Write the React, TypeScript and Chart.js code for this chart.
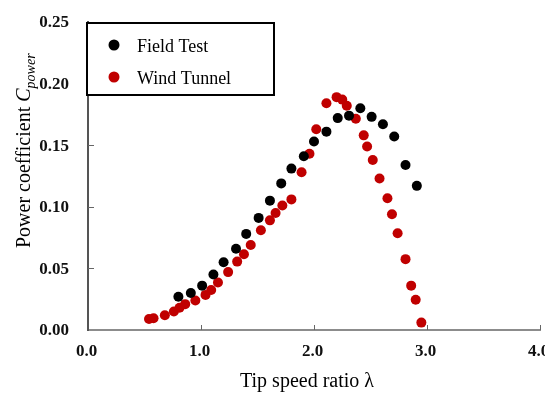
import React, { useEffect, useRef } from "react";
import { Chart, registerables } from "chart.js";

Chart.register(...registerables);

const xTicks = [0, 1, 2, 3, 4];
const yTicks = [0, 0.05, 0.1, 0.15, 0.2, 0.25];

const seriesLabels = ["Field Test", "Wind Tunnel"];
const seriesColors = ["#000000", "#c00000"];

const fieldTestX = [0.8, 0.91, 1.01, 1.11, 1.2, 1.31, 1.4, 1.51, 1.61, 1.71, 1.8, 1.91, 2.0, 2.11, 2.21, 2.31, 2.41, 2.51, 2.61, 2.71, 2.81, 2.91];
const fieldTestY = [0.027, 0.03, 0.036, 0.045, 0.055, 0.066, 0.078, 0.091, 0.105, 0.119, 0.131, 0.141, 0.153, 0.161, 0.172, 0.174, 0.18, 0.173, 0.167, 0.157, 0.134, 0.117];

const windTunnelX = [0.54, 0.58, 0.68, 0.76, 0.81, 0.86, 0.95, 1.04, 1.09, 1.15, 1.24, 1.32, 1.38, 1.44, 1.53, 1.61, 1.66, 1.72, 1.8, 1.89, 1.96, 2.02, 2.11, 2.2, 2.25, 2.29, 2.37, 2.44, 2.47, 2.52, 2.58, 2.65, 2.69, 2.74, 2.81, 2.86, 2.9, 2.95];
const windTunnelY = [0.009, 0.0095, 0.012, 0.015, 0.018, 0.021, 0.024, 0.0285, 0.0325, 0.0385, 0.047, 0.0555, 0.0615, 0.069, 0.081, 0.089, 0.095, 0.101, 0.106, 0.128, 0.143, 0.163, 0.184, 0.189, 0.187, 0.182, 0.1715, 0.158, 0.149, 0.138, 0.123, 0.107, 0.094, 0.0785, 0.0575, 0.036, 0.0245, 0.006];

const xTitle = "Tip speed ratio λ";
const yTitleMain = "Power coefficient ";
const yTitleSymbol = "C";
const yTitleSub = "power";

const SERIF = "'Liberation Serif', 'Times New Roman', Times, serif";

const decorPlugin = {
  id: "decor",
  afterDraw(chart: any) {
    const ctx = chart.ctx as CanvasRenderingContext2D;
    const xs = chart.scales.x;
    const ys = chart.scales.y;
    const { left, bottom } = chart.chartArea;
    ctx.save();

    // inward tick marks
    ctx.strokeStyle = "#666";
    ctx.lineWidth = 1;
    ctx.beginPath();
    xTicks.forEach((v) => {
      if (v === 0) return;
      const px = Math.round(xs.getPixelForValue(v)) + 0.5;
      ctx.moveTo(px, bottom);
      ctx.lineTo(px, bottom - 5);
    });
    yTicks.forEach((v) => {
      if (v === 0) return;
      const py = Math.round(ys.getPixelForValue(v)) + 0.5;
      ctx.moveTo(left, py);
      ctx.lineTo(left + 6, py);
    });
    ctx.stroke();

    // legend box
    ctx.fillStyle = "#ffffff";
    ctx.fillRect(87, 23, 187, 72);
    ctx.strokeStyle = "#000";
    ctx.lineWidth = 2;
    ctx.strokeRect(87, 23, 187, 72);
    const rows = [45, 77];
    chart.data.datasets.forEach((ds: any, i: number) => {
      ctx.fillStyle = ds.pointBackgroundColor;
      ctx.beginPath();
      ctx.arc(114, rows[i], 5.5, 0, Math.PI * 2);
      ctx.fill();
      ctx.fillStyle = "#000";
      ctx.font = `18px ${SERIF}`;
      ctx.textAlign = "left";
      ctx.textBaseline = "alphabetic";
      ctx.fillText(ds.label, 137, rows[i] + 6.5);
    });

    // x title
    ctx.fillStyle = "#000";
    ctx.font = `20px ${SERIF}`;
    ctx.textAlign = "center";
    ctx.textBaseline = "alphabetic";
    ctx.fillText(xTitle, 307, 387);

    // y title (rotated)
    ctx.translate(30, 248);
    ctx.rotate(-Math.PI / 2);
    ctx.textAlign = "left";
    ctx.font = `20px ${SERIF}`;
    ctx.fillText(yTitleMain, 0, 0);
    let off = ctx.measureText(yTitleMain).width;
    ctx.font = `italic 20px ${SERIF}`;
    ctx.fillText(yTitleSymbol, off, 0);
    off += ctx.measureText(yTitleSymbol).width;
    ctx.font = `italic 14px ${SERIF}`;
    ctx.fillText(yTitleSub, off, 5);

    ctx.restore();
  },
};

export default function App() {
  const ref = useRef<HTMLCanvasElement | null>(null);

  useEffect(() => {
    document.body.style.margin = "0";
    const canvas = ref.current;
    if (!canvas) return;
    const chart = new Chart(canvas, {
      type: "scatter",
      data: {
        datasets: [
          {
            label: seriesLabels[0],
            data: fieldTestX.map((x, i) => ({ x, y: fieldTestY[i] })),
            pointBackgroundColor: seriesColors[0],
            backgroundColor: seriesColors[0],
            pointBorderWidth: 0,
            pointRadius: 5,
            showLine: false,
          },
          {
            label: seriesLabels[1],
            data: windTunnelX.map((x, i) => ({ x, y: windTunnelY[i] })),
            pointBackgroundColor: seriesColors[1],
            backgroundColor: seriesColors[1],
            pointBorderWidth: 0,
            pointRadius: 5,
            showLine: false,
          },
        ],
      },
      options: {
        responsive: false,
        animation: false,
        devicePixelRatio: 1,
        layout: { padding: { top: 22, right: 5, bottom: 0, left: 0 } },
        plugins: {
          legend: { display: false },
          tooltip: { enabled: false },
        },
        scales: {
          x: {
            type: "linear",
            min: 0,
            max: 4,
            afterBuildTicks: (s: any) => {
              s.ticks = xTicks.map((v) => ({ value: v }));
            },
            afterFit: (s: any) => {
              s.height = 64;
              s.paddingLeft = 0;
              s.paddingRight = 0;
            },
            grid: { display: true, drawOnChartArea: false, drawTicks: false },
            border: { display: true, color: "#8c8c8c", width: 2 },
            ticks: {
              callback: (v: any) => Number(v).toFixed(1),
              font: { family: SERIF, size: 17, weight: "bold" },
              color: "#111",
              padding: 11,
              maxRotation: 0,
              autoSkip: false,
              labelOffset: -1.5,
            },
          },
          y: {
            type: "linear",
            min: 0,
            max: 0.25,
            afterBuildTicks: (s: any) => {
              s.ticks = yTicks.map((v) => ({ value: v }));
            },
            afterFit: (s: any) => {
              s.width = 88;
              s.paddingTop = 0;
              s.paddingBottom = 0;
            },
            grid: { display: true, drawOnChartArea: false, drawTicks: false },
            border: { display: true, color: "#555", width: 2 },
            ticks: {
              callback: (v: any) => Number(v).toFixed(2),
              font: { family: SERIF, size: 17, weight: "bold" },
              color: "#111",
              padding: 19,
              autoSkip: false,
              labelOffset: 1,
            },
          },
        },
      },
      plugins: [decorPlugin],
    } as any);
    return () => chart.destroy();
  }, []);

  return (
    <div style={{ width: 545, height: 394, background: "#fff" }}>
      <canvas ref={ref} width={545} height={394} style={{ display: "block" }} />
    </div>
  );
}
